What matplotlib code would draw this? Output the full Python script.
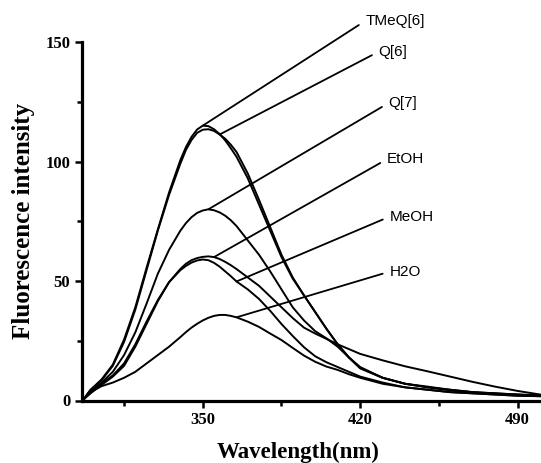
#!/usr/bin/env python3
# -*- coding: utf-8 -*-
"""
Fluorescence emission spectra in different media
"""

import matplotlib
matplotlib.use('Agg')
from matplotlib import pyplot as plt
from matplotlib.ticker import MultipleLocator


WAVELENGTH = [297, 300, 305, 310, 315, 320, 325, 330, 335, 340,
              342.5, 345, 347.5, 350, 352.5, 355, 357.5, 360, 362.5, 365,
              370, 375, 380, 385, 390, 395, 400, 405, 410, 415,
              420, 430, 440, 450, 460, 470, 480, 490, 500]

TMEQ6 = [0.5, 4.4, 8.8, 15, 25.5, 39, 55.5, 71.5, 87, 100.5,
         106, 110.3, 113.4, 115, 114.8, 113.5, 111.5, 108.8, 105.5, 102,
         93, 82, 71, 60, 51, 44, 37, 30, 23.5, 18,
         13.5, 9.5, 7, 5.8, 4.5, 3.5, 3, 2.5, 2.2]

Q6 = [0.5, 4.3, 8.5, 14.5, 24.5, 38, 54.5, 71, 86, 99,
      104.8, 109, 112, 113.3, 113.5, 112.8, 111.3, 109.5, 107, 104,
      95, 84, 72.5, 61, 51.5, 44, 37, 30, 23.5, 18,
      13.5, 9.5, 7, 5.5, 4.3, 3.4, 2.8, 2.4, 2]

Q7 = [0.5, 3.5, 7.5, 12, 19, 28.5, 40.5, 53, 63, 71,
      74.2, 76.7, 78.5, 79.5, 80, 79.6, 78.7, 77.3, 75.4, 73,
      67, 61, 54, 46.5, 39, 33.5, 29, 26, 22.5, 18,
      14, 9.5, 7, 5.5, 4.5, 3.5, 3, 2.5, 2]

ETOH = [0.5, 3, 6.5, 10, 14.5, 22.5, 32, 41.5, 49.5, 55,
        57.2, 58.7, 59.6, 60.1, 60.3, 60, 59.2, 58, 56.6, 55,
        51.5, 48, 43.5, 39, 34.5, 30.5, 28, 25.8, 23.5, 21.5,
        19.5, 16.8, 14.3, 12.2, 10, 7.8, 5.8, 4, 2.5]

MEOH = [0.5, 3, 7, 10.5, 15.5, 23.5, 33, 42, 49.5, 54.5,
        56.3, 57.7, 58.6, 59, 58.7, 57.6, 56, 54, 52, 49.8,
        46.5, 42.5, 37.5, 32, 27, 22.3, 18.5, 16, 14, 12,
        10, 7.5, 5.5, 4.5, 3.5, 3, 2.5, 2, 1.8]

H2O = [0.3, 3.5, 6, 7.5, 9.5, 12, 15.5, 19, 22.5, 26.5,
       28.6, 30.5, 32.1, 33.5, 34.6, 35.4, 35.8, 35.8, 35.4, 34.8,
       33, 30.8, 28, 25.3, 22, 18.8, 16.2, 14.2, 12.8, 11,
       9.5, 7, 5.5, 4.5, 3.5, 3, 2.5, 2, 1.8]

SERIES = {
    'TMeQ[6]': TMEQ6,
    'Q[6]': Q6,
    'Q[7]': Q7,
    'EtOH': ETOH,
    'MeOH': MEOH,
    'H2O': H2O,
}

# label: (wavelength the leader starts at, text position in data units)
LEADERS = {
    'TMeQ[6]': (350, (422.2, 158.8)),
    'Q[6]': (357.5, (428.1, 145.9)),
    'Q[7]': (352.5, (432.5, 124.4)),
    'EtOH': (355, (431.8, 100.9)),
    'MeOH': (365, (433.0, 76.9)),
    'H2O': (365, (433.0, 53.9)),
}

SERIF = 'Liberation Serif'
SANS = 'Liberation Sans'


def plot_spectra(ax):
    for label, values in SERIES.items():
        ax.plot(WAVELENGTH, values, color='black', lw=1.4)
        start, (tx, ty) = LEADERS[label]
        y0 = values[WAVELENGTH.index(start)]
        ax.annotate(label, xy=(start, y0), xytext=(tx, ty),
                    ha='left', va='center', fontsize=11, family=SANS,
                    annotation_clip=False,
                    arrowprops=dict(arrowstyle='-', color='black', lw=1.3,
                                    shrinkA=3, shrinkB=0, relpos=(0, 0.5)))


fig = plt.figure(figsize=(5.41, 4.63), dpi=100)
ax = fig.add_axes([82 / 541, 1 - 400.5 / 463, 459 / 541, 358.5 / 463])

plot_spectra(ax)

ax.set_xlim(296.3, 500.4)
ax.set_ylim(0, 150)

ax.xaxis.set_minor_locator(MultipleLocator(35))
ax.yaxis.set_major_locator(MultipleLocator(50))
ax.yaxis.set_minor_locator(MultipleLocator(25))
ax.set_xticks([350, 420, 490])

for side in ('top', 'right'):
    ax.spines[side].set_visible(False)
for side in ('left', 'bottom'):
    ax.spines[side].set_linewidth(2.3)

ax.tick_params(which='major', direction='out', length=5, width=1.8, pad=3.5)
ax.tick_params(which='minor', direction='out', length=3.5, width=1.8)
for tick in ax.get_xticklabels() + ax.get_yticklabels():
    tick.set_fontfamily(SERIF)
    tick.set_fontweight('bold')
    tick.set_fontsize(12)

ax.set_xlabel('Wavelength(nm)', family=SERIF, fontweight='bold', fontsize=16.5)
ax.set_ylabel('Fluorescence intensity', family=SERIF, fontweight='bold', fontsize=18)
ax.xaxis.set_label_coords(0.47, -0.144)
ax.xaxis.label.set_va('center')
ax.yaxis.set_label_coords(-0.1285, 0.5)
ax.yaxis.label.set_va('center')

fig.savefig('out.png', dpi=100)
